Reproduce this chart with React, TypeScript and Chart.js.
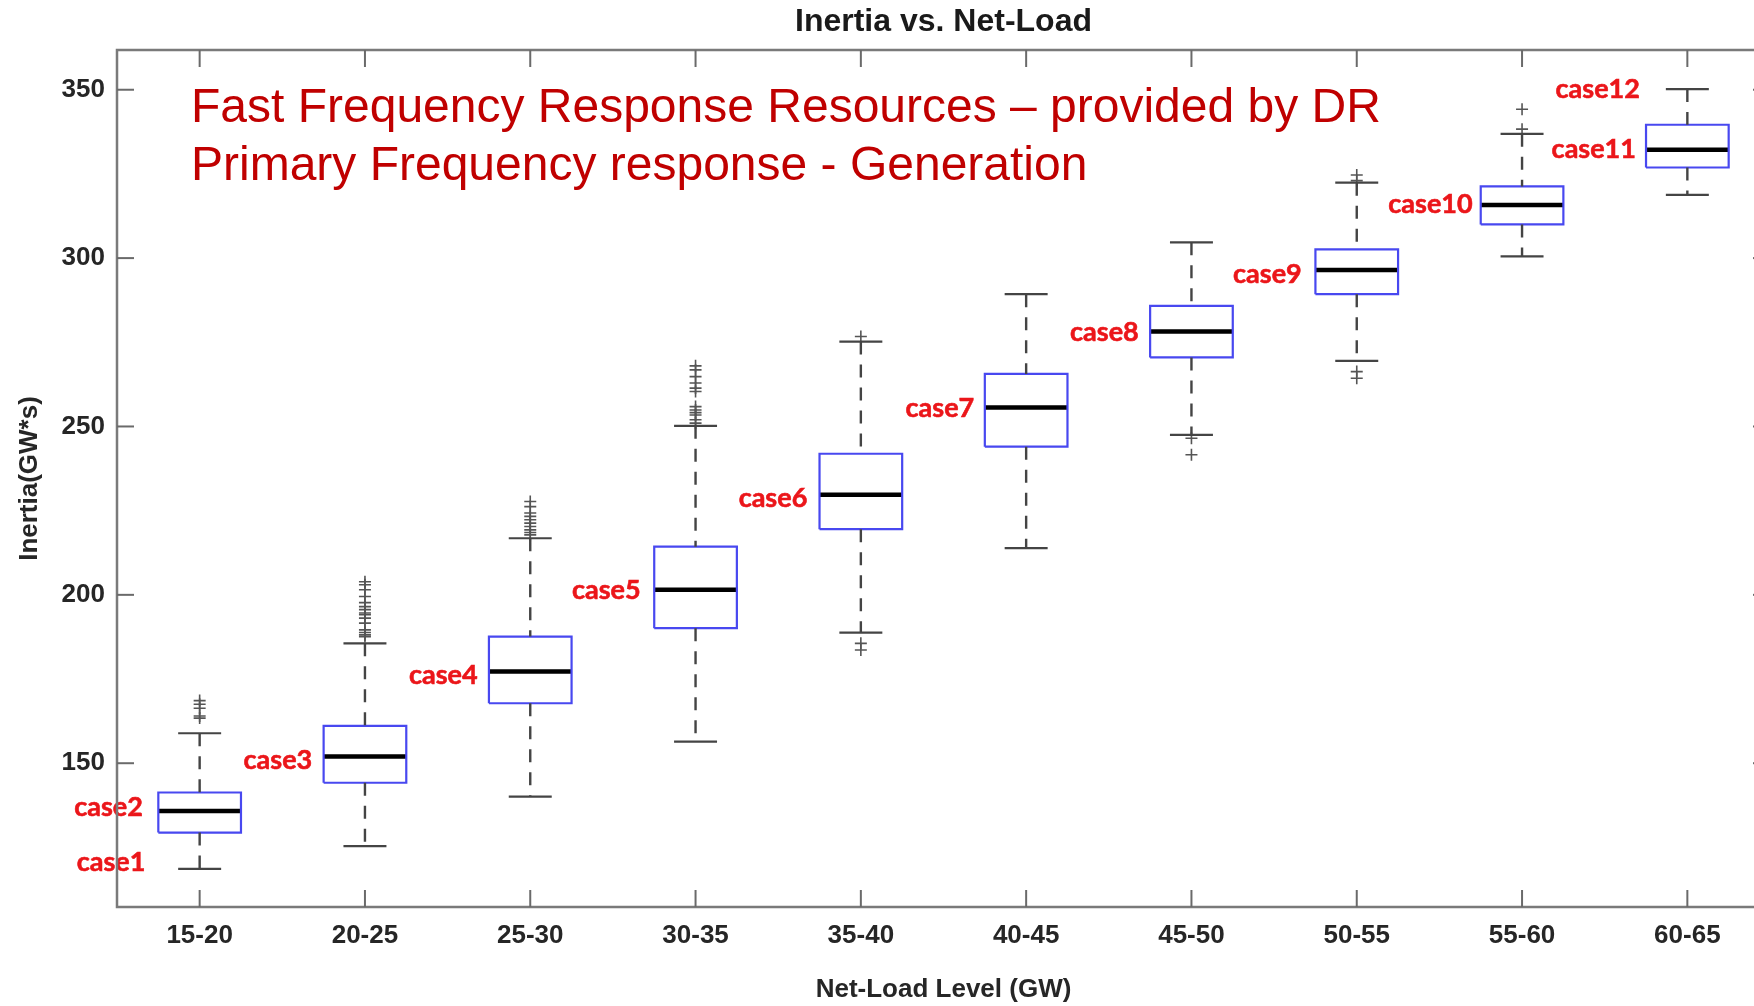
import React, { useEffect, useRef } from "react";
import { Chart, registerables } from "chart.js";

Chart.register(...registerables);

// ---------- data ----------
const categories = ["15-20", "20-25", "25-30", "30-35", "35-40", "40-45", "45-50", "50-55", "55-60", "60-65"];
const q1 = [129.4, 144.2, 167.8, 190.1, 219.5, 244.0, 270.5, 289.3, 310.0, 326.9];
const medians = [135.8, 152.0, 177.2, 201.5, 229.7, 255.6, 278.2, 296.5, 315.8, 332.2];
const q3 = [141.3, 161.1, 187.6, 214.3, 241.9, 265.6, 285.8, 302.6, 321.3, 339.6];
const whiskerLow = [118.6, 125.4, 140.1, 156.4, 188.8, 213.9, 247.5, 269.5, 300.5, 318.8];
const whiskerHigh = [158.9, 185.6, 216.8, 250.2, 275.2, 289.3, 304.7, 322.4, 336.9, 350.2];
const outliers: number[][] = [
  [168.6, 167.5, 166.3, 164.0, 163.4],
  [203.9, 203.0, 201.5, 199.5, 197.7, 196.5, 195.6, 194.6, 194.1, 193.1, 191.6, 189.6, 188.8, 188.1, 187.6],
  [227.7, 226.2, 224.3, 223.3, 222.3, 221.3, 220.3, 219.3, 218.5, 217.8],
  [268.0, 266.8, 264.8, 262.9, 261.4, 260.4, 255.9, 254.9, 254.1, 253.4, 252.0, 251.0],
  [276.7, 185.6, 183.6],
  [],
  [246.5, 241.6],
  [324.7, 323.0, 266.3, 264.3],
  [344.2, 338.3],
  [],
];
const yTickValues = [150, 200, 250, 300, 350];
const caseLabels = ["case1", "case2", "case3", "case4", "case5", "case6", "case7", "case8", "case9", "case10", "case11", "case12"];
const caseAnchorX = [0.672, 0.657, 1.681, 2.682, 3.668, 4.676, 5.686, 6.681, 7.667, 8.701, 9.689, 9.713];
const caseAnchorY = [120.5, 136.9, 150.8, 176.2, 201.3, 228.7, 255.4, 277.9, 295.2, 316.0, 332.4, 350.0];
const noteLines = [
  "Fast Frequency Response Resources \u2013 provided by DR",
  "Primary Frequency response - Generation",
];
const chartTitle = "Inertia vs. Net-Load";
const xTitle = "Net-Load Level (GW)";
const yTitle = "Inertia(GW*s)";

// ---------- styling ----------
const BOX_HALF = 0.25;
const CAP_HALF = 0.13;
const FAMILY = '"Liberation Sans", Arial, Helvetica, sans-serif';
const AXIS_TEXT = "#262626";

const positions = categories.map((_, i) => i + 1);

const boxData = positions.flatMap((x, i) => [
  { x: x - BOX_HALF, y: q1[i] },
  { x: x - BOX_HALF, y: q3[i] },
  { x: x + BOX_HALF, y: q3[i] },
  { x: x + BOX_HALF, y: q1[i] },
  { x: x - BOX_HALF, y: q1[i] },
  { x, y: null },
]);
const whiskerData = positions.flatMap((x, i) => [
  { x, y: whiskerHigh[i] },
  { x, y: q3[i] },
  { x, y: null },
  { x, y: q1[i] },
  { x, y: whiskerLow[i] },
  { x, y: null },
]);
const capData = positions.flatMap((x, i) => [
  { x: x - CAP_HALF, y: whiskerHigh[i] },
  { x: x + CAP_HALF, y: whiskerHigh[i] },
  { x, y: null },
  { x: x - CAP_HALF, y: whiskerLow[i] },
  { x: x + CAP_HALF, y: whiskerLow[i] },
  { x, y: null },
]);
const medianData = positions.flatMap((x, i) => [
  { x: x - BOX_HALF, y: medians[i] },
  { x: x + BOX_HALF, y: medians[i] },
  { x, y: null },
]);
const outlierData = positions.flatMap((x, i) => outliers[i].map((v) => ({ x, y: v })));

const framePlugin = {
  id: "matlabFrame",
  afterDraw(chart: any) {
    const { ctx, chartArea, scales } = chart;
    const { left, right, top, bottom } = chartArea;
    const xs = scales.x;
    const ys = scales.y;
    const TL = 17;
    ctx.save();
    ctx.strokeStyle = "#7a7a7a";
    ctx.lineWidth = 2.5;
    ctx.strokeRect(left, top, right - left, bottom - top);
    ctx.lineWidth = 2;
    ctx.strokeStyle = "#6a6a6a";
    const seg = (x1: number, y1: number, x2: number, y2: number) => {
      ctx.beginPath();
      ctx.moveTo(x1, y1);
      ctx.lineTo(x2, y2);
      ctx.stroke();
    };
    xs.ticks.forEach((t: any) => {
      const px = xs.getPixelForValue(t.value);
      seg(px, bottom, px, bottom - TL);
      seg(px, top, px, top + TL);
    });
    ys.ticks.forEach((t: any) => {
      const py = ys.getPixelForValue(t.value);
      seg(left, py, left + TL, py);
      seg(right, py, right - TL, py);
    });
    ctx.restore();
  },
};

const annotationPlugin = {
  id: "annotations",
  afterDatasetsDraw(chart: any) {
    const { ctx, chartArea, scales } = chart;
    const xs = scales.x;
    const ys = scales.y;
    ctx.save();
    ctx.font = '700 27px Lato, "Open Sans", sans-serif';
    ctx.fillStyle = "rgb(235, 22, 26)";
    ctx.strokeStyle = "rgb(235, 22, 26)";
    ctx.lineWidth = 0.6;
    ctx.textAlign = "right";
    ctx.textBaseline = "middle";
    caseLabels.forEach((t, i) => {
      const px = xs.getPixelForValue(caseAnchorX[i]);
      const py = ys.getPixelForValue(caseAnchorY[i]);
      ctx.fillText(t, px, py);
      ctx.strokeText(t, px, py);
    });
    ctx.font = `400 48px ${FAMILY}`;
    ctx.fillStyle = "rgb(192, 0, 0)";
    ctx.textAlign = "left";
    ctx.textBaseline = "alphabetic";
    noteLines.forEach((t, i) => {
      ctx.fillText(t, chartArea.left + 74, chartArea.top + 72 + i * 58.3);
    });
    ctx.restore();
  },
};

export default function App() {
  const ref = useRef<HTMLCanvasElement | null>(null);

  useEffect(() => {
    if (!ref.current) return;
    const lineBase = {
      type: "scatter" as const,
      showLine: true,
      spanGaps: false,
      pointRadius: 0,
      pointHoverRadius: 0,
      fill: false,
      tension: 0,
    };
    const chart = new Chart(ref.current, {
      type: "scatter",
      data: {
        datasets: [
          {
            ...lineBase,
            label: "whiskers",
            data: whiskerData as any,
            borderColor: "#444444",
            borderWidth: 2.4,
            borderDash: [13, 10],
          },
          {
            ...lineBase,
            label: "caps",
            data: capData as any,
            borderColor: "#444444",
            borderWidth: 2.2,
          },
          {
            ...lineBase,
            label: "boxes",
            data: boxData as any,
            borderColor: "rgb(72, 72, 240)",
            borderWidth: 2.2,
            borderJoinStyle: "miter",
          },
          {
            ...lineBase,
            label: "medians",
            data: medianData as any,
            borderColor: "#000000",
            borderWidth: 4.5,
          },
          {
            type: "scatter",
            label: "outliers",
            data: outlierData as any,
            showLine: false,
            pointStyle: "cross",
            pointRadius: 6,
            pointHoverRadius: 6,
            borderColor: "#555555",
            backgroundColor: "#555555",
            borderWidth: 1.6,
          },
        ],
      },
      options: {
        animation: false,
        responsive: false,
        devicePixelRatio: 1,
        events: [],
        layout: { padding: { left: 0, right: 20, top: 0, bottom: 0 } },
        plugins: {
          legend: { display: false },
          tooltip: { enabled: false },
          title: {
            display: true,
            text: chartTitle,
            fullSize: false,
            color: "#1a1a1a",
            font: { family: FAMILY, size: 32, weight: "bold" },
            padding: { top: 3, bottom: 8.6 },
          },
        },
        scales: {
          x: {
            type: "linear",
            position: "bottom",
            min: 0.5,
            max: 10.5,
            afterFit: (s: any) => {
              s.height = 99;
            },
            afterBuildTicks: (s: any) => {
              s.ticks = positions.map((v) => ({ value: v }));
            },
            grid: { display: false, drawTicks: false },
            border: { display: false },
            ticks: {
              autoSkip: false,
              maxRotation: 0,
              minRotation: 0,
              padding: 13,
              color: AXIS_TEXT,
              font: { family: FAMILY, size: 26, weight: "bold" },
              callback: (v: any) => categories[Math.round(Number(v)) - 1] ?? "",
            },
            title: {
              display: true,
              text: xTitle,
              color: AXIS_TEXT,
              font: { family: FAMILY, size: 26, weight: "bold" },
              padding: { top: 0, bottom: 0.5 },
            },
          },
          y: {
            type: "linear",
            position: "left",
            min: 107.3,
            max: 361.8,
            afterFit: (s: any) => {
              s.width = 117;
            },
            afterBuildTicks: (s: any) => {
              s.ticks = yTickValues.map((v) => ({ value: v }));
            },
            grid: { display: false, drawTicks: false },
            border: { display: false },
            ticks: {
              padding: 12,
              color: AXIS_TEXT,
              font: { family: FAMILY, size: 26, weight: "bold" },
              callback: (v: any) => String(v),
            },
            title: {
              display: true,
              text: yTitle,
              color: AXIS_TEXT,
              font: { family: FAMILY, size: 26, weight: "bold" },
              padding: { top: 14, bottom: 0 },
            },
          },
        },
      } as any,
      plugins: [framePlugin, annotationPlugin],
    });
    return () => chart.destroy();
  }, []);

  return (
    <div
      style={{
        position: "fixed",
        left: 0,
        top: 0,
        width: 1754,
        height: 1006,
        overflow: "hidden",
        background: "#ffffff",
      }}
    >
      <canvas ref={ref} width={1790} height={1006} style={{ display: "block" }} />
    </div>
  );
}
